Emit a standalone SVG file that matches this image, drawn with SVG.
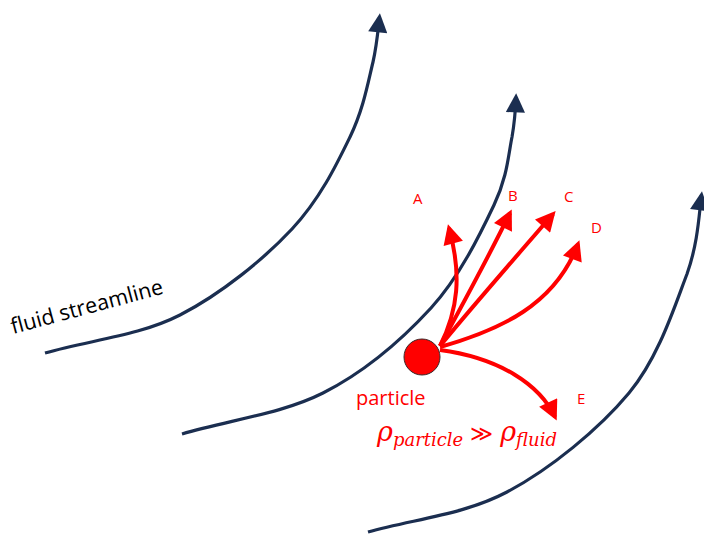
<svg xmlns="http://www.w3.org/2000/svg" width="704" height="536" viewBox="0 0 704 536">
<defs>
<marker id="navy" viewBox="0 0 10 10" refX="8" refY="5" markerWidth="6.5" markerHeight="6" markerUnits="strokeWidth" orient="auto"><path d="M0,0 L10,5 L0,10 z" fill="#1B2E50"/></marker>
<marker id="red" viewBox="0 0 10 10" refX="8" refY="5" markerWidth="5.5" markerHeight="5" markerUnits="strokeWidth" orient="auto"><path d="M0,0 L10,5 L0,10 z" fill="#FF0000"/></marker>
</defs>
<style>
.sl{fill:none;stroke:#1B2E50;stroke-width:3.2;stroke-linecap:butt}
.tr{fill:none;stroke:#FF0000;stroke-width:4}
.lbl{font-family:"Open Sans","Liberation Sans",sans-serif;fill:#FF0000}
</style>
<g id="connectors">
<path class="sl" d="M45,353 C90,340 139,336 180,315 C221,294 264,259 292,229 C320,199 336.5,164.8 350,137 C363.5,109 368,82.5 373,62 C377,44 378,30 379.5,17" marker-end="url(#navy)"/>
<path class="sl" d="M182,434 C229,420 281.5,414 323,393 C364.5,372 402.5,339 431,308 C459.5,277 480.5,233.5 494,205 C507.5,176.5 508.3,155 512,137 C515,120 515.5,110 516,97" marker-end="url(#navy)"/>
<path class="sl" d="M368,532 C414,519 463.5,515 507,492 C550.5,469 599,429 629,393 C659,357 675,305 687,274 C698,243 699,215 701.5,195" marker-end="url(#navy)"/>
<path class="tr" d="M440,346 C458,310 462,275 449,228" marker-end="url(#red)"/>
<path class="tr" d="M440,346 C465,300 488,258 510,213" marker-end="url(#red)"/>
<path class="tr" d="M440,346 C478,300 515,258 553,214" marker-end="url(#red)"/>
<path class="tr" d="M440,347 C500,330 555,305 578,244" marker-end="url(#red)"/>
<path class="tr" d="M440,350 C500,358 540,385 555,417" marker-end="url(#red)"/>
</g>
<g id="particle">
<circle cx="422" cy="357" r="18" fill="#FF0000" stroke="#3A2A2A" stroke-width="1"/>
<text class="lbl" x="356" y="405" font-size="20">particle</text>
</g>
<g id="labels">
<text class="lbl" x="413" y="204" font-size="15">A</text>
<text class="lbl" x="508" y="201" font-size="15">B</text>
<text class="lbl" x="564" y="202" font-size="15">C</text>
<text class="lbl" x="591" y="233" font-size="15">D</text>
<text class="lbl" x="577" y="404" font-size="15">E</text>
</g>
<g id="formula">
<text x="377" y="441" font-family="'DejaVu Serif','Liberation Serif',serif" font-style="italic" fill="#FF0000" font-size="27">ρ<tspan font-size="18" dy="5">particle</tspan><tspan dy="-5" font-size="22" font-style="normal"> ≫ </tspan>ρ<tspan font-size="18" dy="5">fluid</tspan></text>
</g>
<g id="streamline-label">
<text x="13" y="334" font-family="'Open Sans','Liberation Sans',sans-serif" font-size="21.5" fill="#000" transform="rotate(-15 13 334)">fluid streamline</text>
</g>
</svg>
